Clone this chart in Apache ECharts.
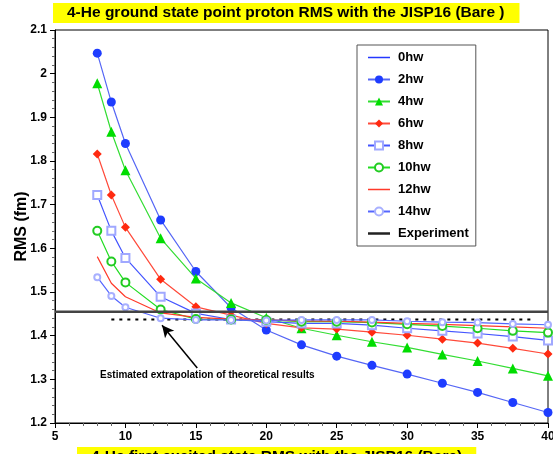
<!DOCTYPE html>
<html><head><meta charset="utf-8">
<script src="https://cdn.jsdelivr.net/npm/echarts@6/dist/echarts.min.js"></script>
<style>html,body{margin:0;padding:0;background:#fff}#c{width:553px;height:454px}</style>
</head><body><div id="c"></div>
<script>
var hw = [8, 9, 10, 12.5, 15, 17.5, 20, 22.5, 25, 27.5, 30, 32.5, 35, 37.5, 40];
var rms0 = [];
var rms2 = [2.047, 1.935, 1.840, 1.665, 1.547, 1.464, 1.413, 1.379, 1.353, 1.332, 1.312, 1.291, 1.270, 1.247, 1.224];
var rms4 = [1.978, 1.867, 1.779, 1.623, 1.531, 1.475, 1.441, 1.417, 1.401, 1.386, 1.373, 1.357, 1.342, 1.325, 1.308];
var rms6 = [1.816, 1.722, 1.648, 1.529, 1.466, 1.447, 1.428, 1.418, 1.415, 1.408, 1.401, 1.392, 1.383, 1.371, 1.358];
var rms8 = [1.722, 1.640, 1.578, 1.489, 1.451, 1.437, 1.432, 1.428, 1.428, 1.424, 1.417, 1.411, 1.405, 1.398, 1.389];
var rms10 = [1.640, 1.570, 1.522, 1.460, 1.438, 1.437, 1.436, 1.432, 1.432, 1.430, 1.426, 1.422, 1.417, 1.411, 1.407];
var rms12 = [1.581, 1.520, 1.489, 1.452, 1.442, 1.438, 1.436, 1.434, 1.433, 1.431, 1.428, 1.426, 1.423, 1.420, 1.417];
var rms14 = [1.534, 1.491, 1.465, 1.440, 1.436, 1.436, 1.435, 1.436, 1.436, 1.436, 1.433, 1.431, 1.430, 1.427, 1.425];
var experiment = 1.455;
var extrapolation = 1.437;
var extrapRange = [9, 39];
var arrowFrom = [15.1, 1.326];
var arrowTo = [12.6, 1.424];
var noteAt = [8.2, 1.31];
var noteText = 'Estimated extrapolation of theoretical results';
var titleText = '4-He ground state point proton RMS with the JISP16 (Bare )';
var bottomText = '4-He first excited state RMS with the JISP16 (Bare)';
var xTicks = {min: 5, max: 40, step: 5};
var yTicks = {min: 1.2, max: 2.1, step: 0.1};

function pts(v){ return v.map(function(y,i){ return [hw[i], y]; }); }
var F = 'Liberation Sans, Arial, Helvetica, sans-serif';
var thinIcon = 'path://M0,0L0.001,0Z M22,10L21.999,10Z M0,4.35L22,4.35L22,5.65L0,5.65Z';
var thickIcon = 'path://M0,0L0.001,0Z M22,10L21.999,10Z M0,3.8L22,3.8L22,6.2L0,6.2Z';

function ser(name, data, lineColor, sym, symColor, size){
  return {
    name: name, type: 'line', data: pts(data),
    symbol: sym || 'none', symbolSize: size || 8, showSymbol: !!sym,
    lineStyle: {color: lineColor, width: 1.2},
    itemStyle: {color: symColor || lineColor, borderWidth: 1.2},
    emphasis: {disabled: true}, animation: false, z: 3
  };
}

var chart = echarts.init(document.getElementById('c'), null, {renderer: 'canvas'});
chart.setOption({
  animation: false,
  title: [
    {text: titleText, left: 53, top: 3, backgroundColor: '#ffff00', padding: [2, 15, 2, 14],
     textStyle: {fontFamily: F, fontWeight: 'bold', fontSize: 15.5, color: '#000'}},
    {text: bottomText, left: 77, top: 447, backgroundColor: '#ffff00', padding: [2, 14, 2, 14],
     textStyle: {fontFamily: F, fontWeight: 'bold', fontSize: 15.5, color: '#000'}}
  ],
  grid: {left: 55, right: 5, top: 30, bottom: 31, show: true, borderColor: '#000', borderWidth: 1,
         outerBoundsMode: 'none', containLabel: false},
  legend: {
    orient: 'vertical', left: 357, top: 45,
    data: [
      {name: '0hw', icon: thinIcon, itemStyle: {color: '#2438ff'}}, '2hw', '4hw', '6hw', '8hw', '10hw',
      {name: '12hw', icon: thinIcon, itemStyle: {color: '#ff3a2a'}}, '14hw',
      {name: 'Experiment', icon: thickIcon, itemStyle: {color: '#222'}}
    ],
    itemWidth: 22, itemHeight: 10, itemGap: 9,
    padding: [6, 7, 6, 10], borderColor: '#555', borderWidth: 1, backgroundColor: '#fff',
    textStyle: {fontFamily: F, fontWeight: 'bold', fontSize: 13, color: '#000', padding: [0, 0, 0, 3]}
  },
  xAxis: {
    type: 'value', min: xTicks.min, max: xTicks.max, interval: xTicks.step,
    axisLine: {lineStyle: {color: '#000', width: 1}},
    axisTick: {length: 5, lineStyle: {color: '#000'}},
    minorTick: {show: true, splitNumber: 5, length: 3, lineStyle: {color: '#666'}},
    splitLine: {show: false},
    axisLabel: {fontFamily: F, fontWeight: 'bold', fontSize: 12, color: '#000', margin: 8}
  },
  yAxis: {
    type: 'value', min: yTicks.min, max: yTicks.max, interval: yTicks.step,
    name: 'RMS (fm)', nameLocation: 'middle', nameGap: 25, nameRotate: 90, nameMoveOverlap: false,
    nameTextStyle: {fontFamily: F, fontWeight: 'bold', fontSize: 16, color: '#000'},
    axisLine: {lineStyle: {color: '#000', width: 1}},
    axisTick: {length: 5, lineStyle: {color: '#000'}},
    minorTick: {show: true, splitNumber: 5, length: 3, lineStyle: {color: '#666'}},
    splitLine: {show: false},
    axisLabel: {fontFamily: F, fontWeight: 'bold', fontSize: 12, color: '#000', margin: 8,
      formatter: function(v){ return String(Math.round(v*10)/10); }}
  },
  series: [
    ser('0hw', rms0, '#2438ff'),
    ser('2hw', rms2, '#5566f5', 'circle', '#1e3cff', 9),
    ser('4hw', rms4, '#33dd33', 'triangle', '#00dd00', 10),
    ser('6hw', rms6, '#ff4a3a', 'diamond', '#ff2a10', 9),
    ser('8hw', rms8, '#4455ff', 'emptyRect', '#a0a8ff', 8),
    ser('10hw', rms10, '#22dd22', 'emptyCircle', '#22cc22', 8),
    ser('12hw', rms12, '#ff3a2a'),
    ser('14hw', rms14, '#5566ff', 'emptyCircle', '#a8b0ff', 6),
    {name: 'Experiment', type: 'line', symbol: 'none', data: [[xTicks.min, experiment], [xTicks.max, experiment]],
     lineStyle: {color: '#444', width: 2.5}, itemStyle: {color: '#222'}, z: 4, emphasis: {disabled: true}},
    {name: 'extrap', type: 'line', symbol: 'none', data: [[extrapRange[0], extrapolation], [extrapRange[1], extrapolation]],
     lineStyle: {color: '#000', width: 2, type: [3, 5]}, z: 2, emphasis: {disabled: true},
     markLine: {silent: true, symbol: ['none', 'arrow'], symbolSize: [9, 12], animation: false,
       lineStyle: {color: '#000', width: 1.5, type: 'solid'}, label: {show: false},
       data: [[{coord: arrowFrom}, {coord: arrowTo}]]},
     markPoint: {silent: true, symbol: 'circle', symbolSize: 0, animation: false,
       data: [{coord: noteAt, label: {show: true, position: 'right', distance: 0, formatter: noteText,
         fontFamily: F, fontWeight: 'bold', fontSize: 10, color: '#000'}}]}}
  ]
});
</script></body></html>
